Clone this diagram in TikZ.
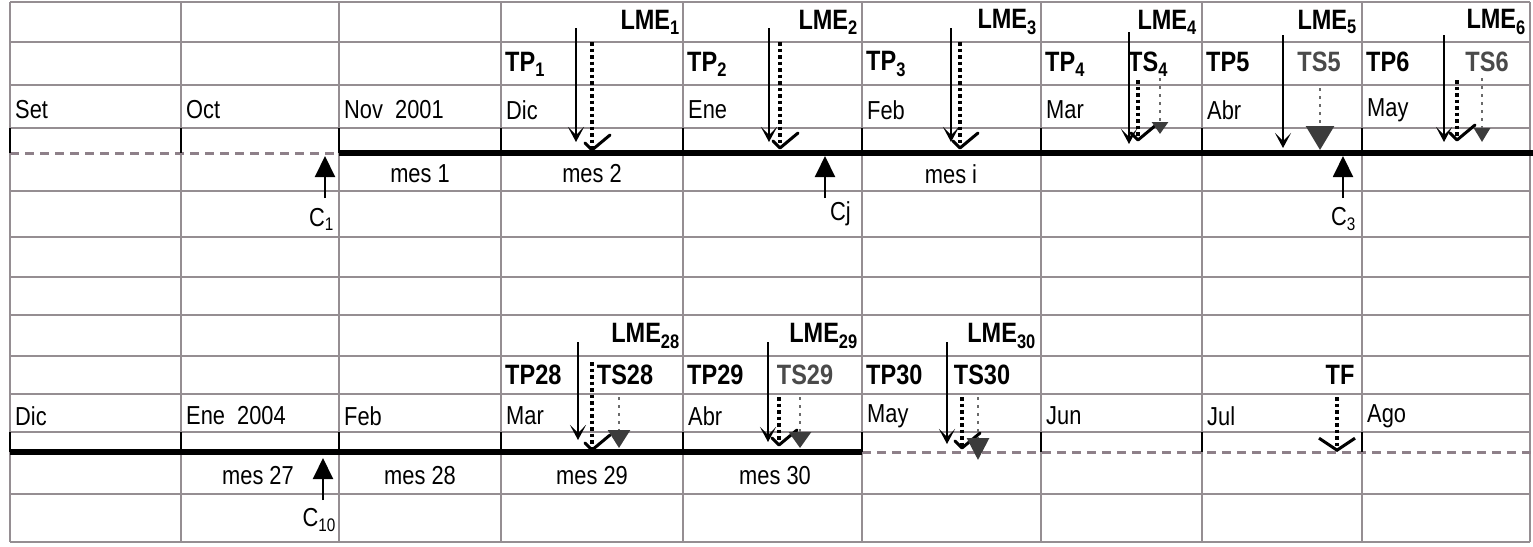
\documentclass[tikz,border=0pt]{standalone}
\usepackage{fontspec}
\setmainfont{Liberation Sans}
\newfontfamily\cellfont[FakeStretch=0.84]{Liberation Sans}
\usetikzlibrary{arrows.meta, calc}
\definecolor{gridgray}{HTML}{958E92}
\definecolor{dashgray}{HTML}{8E8089}
\definecolor{tsgray}{HTML}{4A4A4A}
\definecolor{dotgray}{HTML}{6A6A6A}
\definecolor{tipgray}{HTML}{3C3C3C}

\begin{document}
\begin{tikzpicture}[x=1pt, y=-1pt,
  gridline/.style={draw=gridgray, line width=1.8pt},
  bar/.style={line width=6pt, black},
  dashbar/.style={line width=3pt, dashgray, dash pattern=on 9pt off 6pt},
  tick/.style={line width=2.6pt, black},
  month/.style={anchor=west, inner sep=0pt, font=\cellfont\fontsize{26}{29}\selectfont},
  mes/.style={inner sep=0pt, font=\cellfont\fontsize{26}{29}\selectfont},
  lbl/.style={inner sep=0pt, font=\cellfont\bfseries\fontsize{28}{31}\selectfont},
  lmearr/.style={line width=1.6pt, -{Stealth[length=15pt, width=16pt, inset=8pt]}},
  tpdot/.style={line width=3.5pt, dash pattern=on 3.5pt off 3pt},
  tsdot/.style={line width=2.8pt, dotgray, dash pattern=on 3pt off 5pt},
  chk/.style={line width=3pt, line cap=round, line join=round},
  cup/.style={line width=2pt, -{Triangle[length=21pt, width=20pt]}}
]
\fill[white] (0,0) rectangle (1533,546);
\useasboundingbox (0,0) rectangle (1533,546);

% grid of the sheet
\foreach \x in {10,181,339,501,683,862,1041,1202,1362,1530}
  \draw[gridline] (\x,2) -- (\x,542);
\foreach \y in {2,42,85,128,191,237,277,315,356,394,432,494,542}
  \draw[gridline] (10,\y) -- (1530,\y);

% time bars
\coordinate (ua) at (10,153);  \coordinate (ub) at (339,153);  \coordinate (uc) at (1533,153);
\coordinate (la) at (10,452);  \coordinate (lb) at (862,452);  \coordinate (lc) at (1533,452);
\draw[dashbar] (ua) -- (ub);  \draw[bar] (ub) -- (uc);
\draw[bar] (la) -- (lb);      \draw[dashbar] (lb) -- (lc);
\foreach \x in {10,181,339,501,683,862,1041,1202,1362} {
  \draw[tick] (\x,128) -- (\x,153);
  \draw[tick] (\x,432) -- (\x,452);
}

% months
\foreach \x/\m [count=\i] in {10/Set,181/Oct,339/Nov~~2001,501/Dic,683/Ene,862/Feb,1041/Mar,1202/Abr,1362/May}
  \node[month] (mu\i) at (\x+5,110) {\m};
\foreach \x/\m [count=\i] in {10/Dic,181/Ene~~2004,339/Feb,501/Mar,683/Abr,862/May,1041/Jun,1202/Jul,1362/Ago}
  \node[month] (ml\i) at (\x+5,416) {\m};

% upper block labels
\node[lbl, anchor=east] (lme1) at (680,22)  {LME\textsubscript{1}};
\node[lbl, anchor=east] (lme2) at (858,22)  {LME\textsubscript{2}};
\node[lbl, anchor=east] (lme3) at (1037,22) {LME\textsubscript{3}};
\node[lbl, anchor=east] (lme4) at (1197,22) {LME\textsubscript{4}};
\node[lbl, anchor=east] (lme5) at (1357,22) {LME\textsubscript{5}};
\node[lbl, anchor=east] (lme6) at (1526,22) {LME\textsubscript{6}};
\node[lbl, anchor=west] (tp1) at (505,64)  {TP\textsubscript{1}};
\node[lbl, anchor=west] (tp2) at (687,64)  {TP\textsubscript{2}};
\node[lbl, anchor=west] (tp3) at (866,64)  {TP\textsubscript{3}};
\node[lbl, anchor=west] (tp4) at (1045,64) {TP\textsubscript{4}};
\node[lbl, anchor=west] (ts4) at (1128,64) {TS\textsubscript{4}};
\node[lbl, anchor=west] (tp5) at (1206,62) {TP5};
\node[lbl, tsgray]      (ts5) at (1319,62) {TS5};
\node[lbl, anchor=west] (tp6) at (1366,62) {TP6};
\node[lbl, tsgray]      (ts6) at (1487,62) {TS6};
\node[mes] (mes1) at (420,174) {mes 1};
\node[mes] (mes2) at (592,174) {mes 2};
\node[mes] (mesi) at (951,174) {mes i};
\node[mes, anchor=east] (c1) at (334,219)  {C\textsubscript{1}};
\node[mes, anchor=east] (cj) at (851,214)  {Cj};
\node[mes, anchor=east] (c3) at (1356,219) {C\textsubscript{3}};

% lower block labels
\node[lbl, anchor=east] (lme28) at (680,336)  {LME\textsubscript{28}};
\node[lbl, anchor=east] (lme29) at (858,336)  {LME\textsubscript{29}};
\node[lbl, anchor=east] (lme30) at (1036,336) {LME\textsubscript{30}};
\node[lbl, anchor=west] (tp28) at (505,375) {TP28};
\node[lbl]              (ts28) at (625,375) {TS28};
\node[lbl, anchor=west] (tp29) at (687,375) {TP29};
\node[lbl, tsgray]      (ts29) at (805,375) {TS29};
\node[lbl, anchor=west] (tp30) at (866,375) {TP30};
\node[lbl]              (ts30) at (982,375) {TS30};
\node[lbl]              (tf)   at (1340,375) {TF};
\node[mes] (mes27) at (258,476) {mes 27};
\node[mes] (mes28) at (420,476) {mes 28};
\node[mes] (mes29) at (592,476) {mes 29};
\node[mes] (mes30) at (775,476) {mes 30};
\node[mes, anchor=east] (c10) at (336,520) {C\textsubscript{10}};

% cut-off arrows
\foreach \x/\y/\n in {325/198/cu1, 825/198/cu2, 1343/198/cu3, 323/500/cu4} {
  \coordinate (\n b) at (\x,\y);
  \coordinate (\n t) at (\x,\y-42);
  \draw[cup] (\n b) -- (\n t);
}

% payment arrows (solid)
\foreach \x/\ya/\yb [count=\i] in {576/28/142, 769/28/142, 951/28/142, 1129/32/144, 1283/35/148,
    1444/35/142, 578/342/440, 768/342/442, 947/342/444} {
  \coordinate (sa\i) at (\x,\ya);
  \coordinate (sb\i) at (\x,\yb);
  \draw[lmearr] (sa\i) -- (sb\i);
}

% payment dotted lines with tick
\foreach \x/\ya/\yb [count=\i] in {592/42/150, 780/42/148, 960/42/148, 1138/80/140, 1457/80/140,
    592/362/450, 779/397/445, 962/397/448} {
  \coordinate (da\i) at (\x,\ya);
  \coordinate (db\i) at (\x,\yb);
  \draw[tpdot] (da\i) -- (db\i);
  \draw[chk] ($(db\i)+(-7,-7)$) -- (db\i) -- ++(18,-15);
}

% TS dotted lines
\foreach \x/\ya/\yb/\l/\w [count=\i] in {1160/78/134/12/16, 1320/88/150/24/28, 1482/78/142/14/16,
    619/397/448/18/22, 800/397/448/16/22, 978/397/460/22/22} {
  \coordinate (ga\i) at (\x,\ya);
  \coordinate (gb\i) at (\x,\yb);
  \draw[tsdot, -{Triangle[length=\l pt, width=\w pt, color=tipgray]}] (ga\i) -- (gb\i);
}

% end of term
\coordinate (tfa) at (1337,397);
\coordinate (tfb) at (1337,452);
\draw[tpdot, -{Straight Barb[length=12pt, width=36pt, line width=3pt]}] (tfa) -- (tfb);
\end{tikzpicture}
\end{document}
